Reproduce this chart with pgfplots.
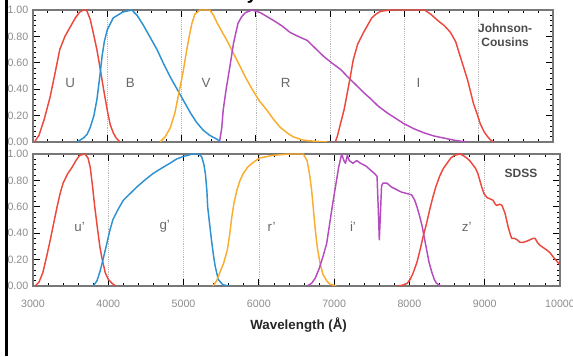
\documentclass[border=0pt]{standalone}
\usepackage{fontspec}
\setmainfont{Liberation Sans}
\usepackage{pgfplots}
\pgfplotsset{compat=1.18}
\definecolor{cred}{RGB}{236,72,62}
\definecolor{cblue}{RGB}{45,145,210}
\definecolor{corange}{RGB}{250,172,45}
\definecolor{cpurple}{RGB}{180,75,190}
\definecolor{tickgray}{RGB}{140,140,140}
\definecolor{labgray}{RGB}{105,105,105}
\definecolor{boxgray}{RGB}{120,120,120}
\tikzset{lab/.style={font=\fontsize{10}{12}\selectfont, text=labgray}}
\pgfplotsset{filt/.style={
  scale only axis, xmin=3000, xmax=10000, ymin=0, ymax=1,
  scaled ticks=false,
  xtick={3000,4000,5000,6000,7000,8000,9000,10000}, minor x tick num=4,
  ytick={0,0.2,0.4,0.6,0.8,1}, minor y tick num=4,
  tick align=inside, tick pos=both,
  major tick length=5pt, minor tick length=2.6pt,
  every tick/.style={black, line width=0.6pt},
  axis line style={boxgray, line width=1.1pt},
  xmajorgrids, grid style={densely dotted, gray!55, line width=0.4pt},
  /pgf/number format/assume math mode=true,
  yticklabel style={font=\fontsize{8}{9}\selectfont, text=tickgray, /pgf/number format/.cd, fixed, fixed zerofill, precision=2},
  xticklabel style={font=\fontsize{8}{9}\selectfont, text=tickgray},
  every axis plot/.append style={line width=1.1pt, no markers, line join=round},
}}
\begin{document}
\begin{tikzpicture}
\useasboundingbox (0,0) rectangle (429.75pt,267pt);
% top panel: Johnson-Cousins
\begin{axis}[filt, at={(24.75pt,160.5pt)}, anchor=south west, width=390pt, height=99pt, xticklabels={}]
\addplot[cred] coordinates {(3020,0) (3080,0.05) (3150,0.17) (3230,0.34) (3300,0.53) (3360,0.70) (3430,0.80) (3500,0.87) (3570,0.94) (3630,0.985) (3680,1.0) (3720,1.0) (3770,0.93) (3810,0.83) (3860,0.70) (3900,0.57) (3950,0.40) (4000,0.24) (4040,0.13) (4080,0.07) (4120,0.03) (4170,0)};
\addplot[cblue] coordinates {(3590,0) (3680,0.03) (3730,0.06) (3770,0.11) (3820,0.20) (3860,0.32) (3900,0.50) (3930,0.65) (3960,0.76) (4000,0.85) (4080,0.94) (4210,0.985) (4330,1.0) (4400,0.96) (4480,0.89) (4570,0.80) (4670,0.70) (4760,0.59) (4850,0.49) (4960,0.38) (5050,0.29) (5120,0.22) (5200,0.15) (5290,0.09) (5380,0.05) (5480,0.02) (5520,0)};
\addplot[corange] coordinates {(4710,0) (4780,0.04) (4850,0.11) (4910,0.22) (4960,0.36) (5020,0.53) (5070,0.70) (5110,0.82) (5140,0.90) (5180,0.97) (5250,1.0) (5380,1.0) (5430,0.96) (5480,0.90) (5610,0.77) (5700,0.67) (5790,0.57) (5870,0.48) (5960,0.39) (6050,0.31) (6150,0.24) (6240,0.17) (6330,0.11) (6420,0.07) (6500,0.04) (6600,0.02) (6690,0.01) (6960,0)};
\addplot[cpurple] coordinates {(5510,0) (5540,0.10) (5560,0.24) (5600,0.40) (5650,0.57) (5700,0.75) (5760,0.90) (5810,0.95) (5860,0.98) (5950,1.0) (6060,0.98) (6150,0.95) (6240,0.92) (6350,0.88) (6460,0.83) (6570,0.80) (6690,0.77) (6800,0.71) (6910,0.65) (7020,0.60) (7140,0.55) (7260,0.48) (7370,0.42) (7460,0.37) (7540,0.33) (7650,0.27) (7770,0.22) (7880,0.18) (7990,0.14) (8130,0.10) (8260,0.07) (8400,0.045) (8530,0.03) (8700,0.01) (8850,0)};
\addplot[cred] coordinates {(7070,0) (7100,0.05) (7140,0.14) (7190,0.25) (7230,0.37) (7270,0.49) (7310,0.62) (7370,0.74) (7450,0.83) (7510,0.89) (7560,0.94) (7620,0.97) (7680,0.99) (7810,1.0) (8270,1.0) (8350,0.97) (8450,0.92) (8540,0.88) (8620,0.83) (8690,0.76) (8750,0.65) (8800,0.56) (8850,0.47) (8890,0.38) (8930,0.29) (8980,0.21) (9020,0.14) (9070,0.08) (9120,0.04) (9160,0.015) (9200,0)};
\node[lab] at (axis cs:3500,0.45) {U};
\node[lab] at (axis cs:4310,0.45) {B};
\node[lab] at (axis cs:5330,0.45) {V};
\node[lab] at (axis cs:6400,0.45) {R};
\node[lab] at (axis cs:8190,0.45) {I};
\node[font=\bfseries\fontsize{9}{11}\selectfont, text=black!70, align=center] at (rel axis cs:0.908,0.81) {Johnson-\\Cousins};
\end{axis}
% bottom panel: SDSS
\begin{axis}[filt, at={(24.75pt,52.5pt)}, anchor=south west, width=395.25pt, height=99pt,
  xticklabels={3000,4000,5000,6000,7000,8000,9000,10000}, xticklabel style={yshift=-7pt}]
\addplot[cred] coordinates {(3030,0) (3080,0.03) (3130,0.10) (3180,0.22) (3230,0.35) (3280,0.49) (3320,0.60) (3360,0.70) (3400,0.78) (3460,0.85) (3520,0.90) (3570,0.95) (3620,0.99) (3690,1.0) (3730,0.97) (3760,0.90) (3790,0.76) (3820,0.60) (3860,0.42) (3890,0.29) (3920,0.20) (3960,0.10) (4000,0.05) (4050,0.02) (4100,0)};
\addplot[cblue] coordinates {(3800,0) (3850,0.04) (3890,0.11) (3930,0.20) (3980,0.32) (4020,0.42) (4060,0.50) (4130,0.58) (4200,0.65) (4290,0.70) (4380,0.75) (4480,0.80) (4590,0.85) (4700,0.89) (4820,0.93) (4900,0.96) (4990,0.98) (5120,1.0) (5200,1.0) (5240,0.98) (5270,0.92) (5290,0.85) (5310,0.72) (5320,0.60) (5350,0.45) (5370,0.35) (5400,0.22) (5420,0.15) (5460,0.05) (5520,0.01) (5600,0)};
\addplot[corange] coordinates {(5390,0) (5440,0.04) (5480,0.10) (5530,0.17) (5580,0.27) (5610,0.38) (5640,0.52) (5670,0.63) (5710,0.73) (5750,0.80) (5790,0.85) (5850,0.90) (5910,0.93) (6010,0.97) (6190,0.99) (6410,1.0) (6590,1.0) (6640,0.95) (6670,0.86) (6700,0.73) (6720,0.61) (6740,0.48) (6760,0.37) (6780,0.28) (6810,0.18) (6850,0.09) (6900,0.04) (6940,0.015) (7030,0)};
\addplot[cpurple] coordinates {(6640,0) (6700,0.02) (6750,0.06) (6800,0.13) (6850,0.22) (6900,0.32) (6940,0.47) (6980,0.62) (7020,0.76) (7060,0.90) (7100,1.0) (7130,0.95) (7150,0.93) (7175,0.99) (7200,0.95) (7250,0.93) (7300,0.95) (7350,0.93) (7420,0.91) (7480,0.88) (7540,0.85) (7570,0.83) (7585,0.60) (7600,0.35) (7615,0.55) (7630,0.76) (7650,0.78) (7700,0.78) (7760,0.75) (7830,0.73) (7900,0.71) (7970,0.70) (8030,0.69) (8070,0.65) (8100,0.60) (8140,0.52) (8170,0.45) (8200,0.36) (8230,0.27) (8260,0.18) (8300,0.10) (8330,0.05) (8360,0.02) (8420,0)};
\addplot[cred] coordinates {(7830,0) (7900,0.005) (7970,0.02) (8010,0.05) (8050,0.10) (8100,0.18) (8140,0.27) (8180,0.37) (8230,0.48) (8270,0.58) (8310,0.67) (8350,0.75) (8400,0.83) (8450,0.89) (8500,0.93) (8550,0.97) (8600,0.99) (8670,1.0) (8710,0.99) (8760,0.97) (8800,0.95) (8840,0.92) (8880,0.89) (8910,0.85) (8940,0.79) (8960,0.75) (8990,0.70) (9030,0.67) (9070,0.66) (9110,0.65) (9140,0.62) (9160,0.61) (9200,0.62) (9230,0.61) (9250,0.58) (9270,0.55) (9290,0.50) (9310,0.45) (9340,0.39) (9360,0.36) (9400,0.36) (9430,0.35) (9470,0.33) (9510,0.33) (9560,0.34) (9600,0.35) (9640,0.36) (9670,0.36) (9700,0.33) (9730,0.31) (9780,0.29) (9830,0.27) (9870,0.25) (9910,0.22) (9940,0.20) (9970,0.18) (10000,0.16)};
\node[lab] at (axis cs:3620,0.45) {u'};
\node[lab] at (axis cs:4750,0.45) {g'};
\node[lab] at (axis cs:6170,0.45) {r'};
\node[lab] at (axis cs:7250,0.45) {i'};
\node[lab] at (axis cs:8760,0.45) {z'};
\node[font=\bfseries\fontsize{9}{11}\selectfont, text=black!70] at (rel axis cs:0.926,0.856) {SDSS};
\end{axis}
\node[font=\bfseries\fontsize{10}{12}\selectfont, text=black!85] at (224pt,23.25pt) {Wavelength (Å)};
\node[anchor=base, font=\bfseries\fontsize{14}{16}\selectfont] at (189pt,267.5pt) {y};
\fill[black] (3.75pt,0) rectangle (6.2pt,267pt);
\end{tikzpicture}
\end{document}
